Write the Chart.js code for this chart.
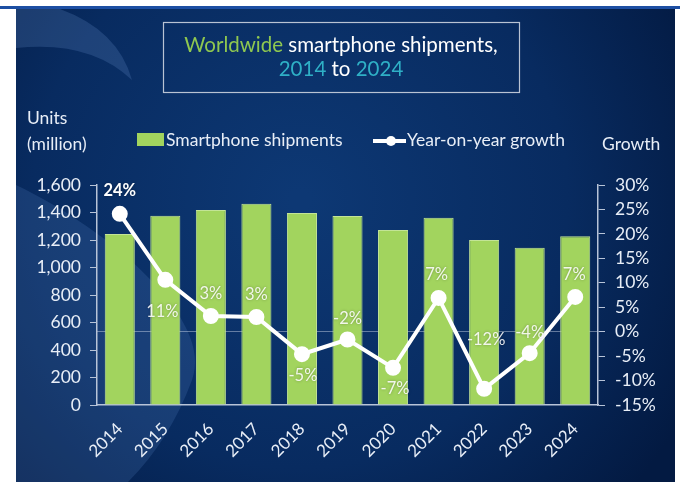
<!DOCTYPE html>
<html>
<head>
<meta charset="utf-8">
<script src="https://cdn.jsdelivr.net/npm/chart.js@4.4.1/dist/chart.umd.min.js"></script>
<style>
  html, body { margin: 0; padding: 0; background: #ffffff; }
  #wrap { width: 680px; height: 482px; position: relative; }
</style>
</head>
<body>
<div id="wrap"><canvas id="grafico" width="680" height="482"></canvas></div>
<script>
// datos del grafico
const years = ['2014', '2015', '2016', '2017', '2018', '2019', '2020', '2021', '2022', '2023', '2024'];
const shipments = [1244, 1377, 1418, 1464, 1396, 1375, 1273, 1362, 1200, 1144, 1227];
const growth = [24.1, 10.6, 3.2, 3.0, -4.6, -1.6, -7.4, 6.9, -11.7, -4.4, 7.1];
const unitTicks = [0, 1600, 200];
const growthTicks = [-15, 30, 5];

const FONT = 'Lato, "Open Sans", sans-serif';
const TXT = '#e8eef7';

// fondo azul del panel con la curva clara
const fondo = {
    id: 'fondo',
    beforeDraw(chart) {
        const ctx = chart.ctx;
        ctx.save();
        ctx.fillStyle = '#ffffff';
        ctx.fillRect(0, 0, 680, 482);
        ctx.fillStyle = '#1d4fa3';
        ctx.fillRect(0, 6, 680, 3);
        const g = ctx.createRadialGradient(300, 200, 10, 300, 200, 440);
        g.addColorStop(0, '#0d3874');
        g.addColorStop(0.6, '#082b60');
        g.addColorStop(1, '#031a42');
        ctx.fillStyle = g;
        ctx.fillRect(16, 9, 659, 473);
        ctx.beginPath();
        ctx.rect(16, 9, 659, 473);
        ctx.clip();
        ctx.fillStyle = 'rgba(110,150,210,0.22)';
        ctx.beginPath();
        ctx.moveTo(60, 9);
        ctx.quadraticCurveTo(118, 30, 132, 80);
        ctx.quadraticCurveTo(90, 40, 16, 48);
        ctx.lineTo(16, 9);
        ctx.closePath();
        ctx.fill();
        ctx.fillStyle = 'rgba(90,135,200,0.2)';
        ctx.beginPath();
        ctx.moveTo(16, 185);
        ctx.bezierCurveTo(110, 230, 215, 320, 192, 380);
        ctx.quadraticCurveTo(170, 440, 128, 482);
        ctx.lineTo(16, 482);
        ctx.closePath();
        ctx.fill();
        ctx.restore();
    }
};

// titulo, leyenda, titulos de ejes y etiquetas
const textos = {
    id: 'textos',
    afterDraw(chart) {
        const ctx = chart.ctx;
        ctx.save();
        // caja del titulo
        ctx.strokeStyle = '#b9c3d3';
        ctx.lineWidth = 1.2;
        ctx.strokeRect(163.5, 22.5, 356, 70);
        ctx.font = '20.5px ' + FONT;
        ctx.textBaseline = 'alphabetic';
        const parts1 = [['Worldwide', '#8fc850'], [' smartphone shipments,', '#ffffff']];
        const parts2 = [['2014', '#2fb0c6'], [' to ', '#ffffff'], ['2024', '#2fb0c6']];
        [[parts1, 52], [parts2, 76]].forEach(([parts, y]) => {
            const w = parts.reduce((s, p) => s + ctx.measureText(p[0]).width, 0);
            let x = 341 - w / 2;
            parts.forEach(p => {
                ctx.fillStyle = p[1];
                ctx.textAlign = 'left';
                ctx.fillText(p[0], x, y);
                x += ctx.measureText(p[0]).width;
            });
        });
        // titulos de ejes
        ctx.font = '17.5px ' + FONT;
        ctx.fillStyle = TXT;
        ctx.textAlign = 'left';
        ctx.fillText('Units', 27, 124);
        ctx.fillText('(million)', 27, 150);
        ctx.fillText('Growth', 602, 150);
        // leyenda
        ctx.fillStyle = '#a2d45e';
        ctx.fillRect(137, 133, 27, 13);
        ctx.fillStyle = TXT;
        ctx.fillText('Smartphone shipments', 166, 146);
        ctx.strokeStyle = '#ffffff';
        ctx.lineWidth = 4;
        ctx.beginPath();
        ctx.moveTo(373, 141);
        ctx.lineTo(406, 141);
        ctx.stroke();
        ctx.fillStyle = '#ffffff';
        ctx.beginPath();
        ctx.arc(391, 141, 5, 0, Math.PI * 2);
        ctx.fill();
        ctx.fillStyle = TXT;
        ctx.fillText('Year-on-year growth', 407, 146);
        // etiquetas de crecimiento
        const offs = [[0, -23], [-3, 32], [0, -22], [0, -22], [1, 22], [0, -21], [2, 21], [-2, -23], [2, -49], [0, -21], [-1, -22]];
        const meta = chart.getDatasetMeta(1);
        ctx.textAlign = 'center';
        ctx.textBaseline = 'middle';
        ctx.shadowColor = 'rgba(0,0,0,0.35)';
        ctx.shadowBlur = 3;
        meta.data.forEach((pt, i) => {
            const v = Math.round(growth[i]);
            ctx.font = (i === 0 ? 'bold ' : '') + '16.5px ' + FONT;
            ctx.fillStyle = i === 0 ? '#ffffff' : 'rgba(255,255,255,0.88)';
            ctx.fillText(v + '%', pt.x + offs[i][0], pt.y + offs[i][1]);
        });
        ctx.restore();
    }
};

const ctx = document.getElementById('grafico').getContext('2d');
const myChart = new Chart(ctx, {
    type: 'bar',
    data: {
        labels: years,
        datasets: [
            {
                type: 'bar',
                label: 'Smartphone shipments',
                data: shipments,
                yAxisID: 'y',
                backgroundColor: '#a2d45e',
                borderColor: '#c3e496',
                borderWidth: 1,
                categoryPercentage: 1,
                barPercentage: 0.66,
                order: 2
            },
            {
                type: 'line',
                label: 'Year-on-year growth',
                data: growth,
                yAxisID: 'y1',
                borderColor: '#ffffff',
                borderWidth: 4,
                pointRadius: 6,
                pointBackgroundColor: '#ffffff',
                pointBorderColor: '#ffffff',
                tension: 0,
                order: 1
            }
        ]
    },
    options: {
        responsive: false,
        animation: false,
        layout: { padding: { top: 185, left: 0, right: 0, bottom: 0 } },
        plugins: {
            legend: { display: false },
            tooltip: { enabled: false }
        },
        scales: {
            x: {
                grid: { display: false },
                border: { display: true, color: '#b8c4d8', width: 1.5 },
                ticks: {
                    color: TXT,
                    font: { family: FONT, size: 17 },
                    maxRotation: 45,
                    minRotation: 45,
                    padding: 6
                },
                afterFit(scale) { scale.height = 77; }
            },
            y: {
                position: 'left',
                min: unitTicks[0],
                max: unitTicks[1],
                ticks: {
                    stepSize: unitTicks[2],
                    color: TXT,
                    font: { family: FONT, size: 17.5 },
                    padding: 9,
                    callback: v => v.toLocaleString('en-US')
                },
                grid: { drawOnChartArea: false, tickLength: 7, color: '#b8c4d8' },
                border: { display: true, color: '#b8c4d8', width: 1.5 },
                afterFit(scale) { scale.width = 97; }
            },
            y1: {
                position: 'right',
                min: growthTicks[0],
                max: growthTicks[1],
                ticks: {
                    stepSize: growthTicks[2],
                    color: TXT,
                    font: { family: FONT, size: 17.5 },
                    padding: 10,
                    callback: v => v + '%'
                },
                grid: {
                    drawOnChartArea: true,
                    tickLength: 7,
                    color: c => (c.tick && c.tick.value === 0) ? 'rgba(210,220,235,0.45)' : 'rgba(0,0,0,0)',
                    tickColor: '#b8c4d8'
                },
                border: { display: true, color: '#b8c4d8', width: 1.5 },
                afterFit(scale) { scale.width = 82; }
            }
        }
    },
    plugins: [fondo, textos]
});
</script>
</body>
</html>
